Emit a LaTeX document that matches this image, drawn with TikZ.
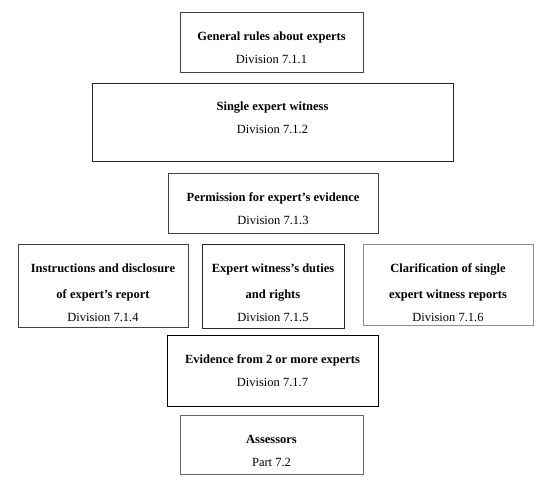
\documentclass[tikz,border=0pt]{standalone}
\usepackage{fontspec}
\setmainfont{Liberation Serif}

\begin{document}
\begin{tikzpicture}[x=1pt, y=-1pt,
    box/.style={draw=black!75, line width=0.9pt, inner sep=0pt},
    txt/.style={align=center, inner sep=0pt, font=\fontsize{12.5}{23}\selectfont}]
    \useasboundingbox (0,0) rectangle (554,481);

    \node[box, minimum width=183pt, minimum height=60pt] (rules) at (271.5,42) {};
    \node[box, draw=black!85, minimum width=361pt, minimum height=78pt] (single) at (272.5,122) {};
    \node[box, minimum width=210pt, minimum height=60pt] (perm) at (273,203) {};
    \node[box, minimum width=170pt, minimum height=83pt] (instr) at (103,285.5) {};
    \node[box, draw=black!85, minimum width=142pt, minimum height=84pt] (duties) at (273,286) {};
    \node[box, draw=black!45, minimum width=170pt, minimum height=81pt] (clarif) at (448,284.5) {};
    \node[box, draw=black, line width=1pt, minimum width=211pt, minimum height=71pt] (evid) at (272.5,370.5) {};
    \node[box, draw=black!60, minimum width=183pt, minimum height=59pt] (assess) at (271.5,444.5) {};

    \node[txt] (rulestxt) at ([yshift=-6pt]rules.center) {\textbf{General rules about experts}\\Division 7.1.1};
    \node[txt] (singletxt) at ([yshift=4.5pt]single.center) {\textbf{Single expert witness}\\Division 7.1.2};
    \node[txt] (permtxt) at ([yshift=-5.5pt]perm.center) {\textbf{Permission for expert's evidence}\\Division 7.1.3};
    \node[txt] (instrtxt) at ([yshift=-7.5pt]instr.center) {\textbf{Instructions and disclosure}\\[3pt]\textbf{of expert's report}\\Division 7.1.4};
    \node[txt] (dutiestxt) at ([yshift=-7pt]duties.center) {\textbf{Expert witness's duties}\\[3pt]\textbf{and rights}\\Division 7.1.5};
    \node[txt] (clariftxt) at ([yshift=-8pt]clarif.center) {\textbf{Clarification of single}\\[3pt]\textbf{expert witness reports}\\Division 7.1.6};
    \node[txt] (evidtxt) at (evid.center) {\textbf{Evidence from 2 or more experts}\\Division 7.1.7};
    \node[txt] (assesstxt) at ([yshift=-6pt]assess.center) {\textbf{Assessors}\\Part 7.2};
\end{tikzpicture}
\end{document}
